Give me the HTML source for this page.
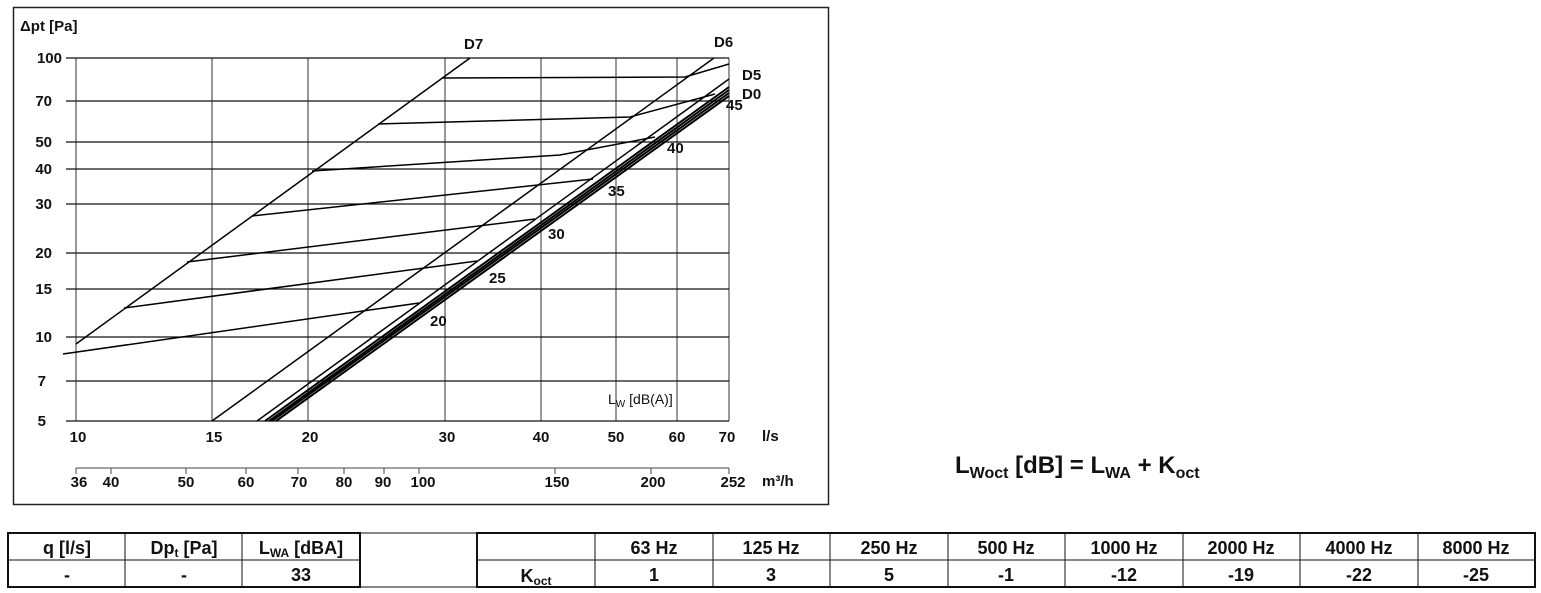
<!DOCTYPE html>
<html><head><meta charset="utf-8"><style>
body{margin:0;background:#fff;width:1541px;height:593px;overflow:hidden;font-family:"Liberation Sans",sans-serif}
svg{position:absolute;left:0;top:0}
</style></head><body>
<svg width="1541" height="593" viewBox="0 0 1541 593" font-family="Liberation Sans, sans-serif">
<rect x="13.5" y="7.5" width="815" height="497" fill="none" stroke="#222" stroke-width="1.5"/>
<g stroke="#555" stroke-width="1.2">
<line x1="76" y1="58" x2="76" y2="421"/><line x1="212" y1="58" x2="212" y2="421"/>
<line x1="308" y1="58" x2="308" y2="421"/><line x1="445" y1="58" x2="445" y2="421"/>
<line x1="541" y1="58" x2="541" y2="421"/><line x1="616" y1="58" x2="616" y2="421"/>
<line x1="677" y1="58" x2="677" y2="421"/><line x1="729" y1="58" x2="729" y2="421"/>
</g>
<g stroke="#111" stroke-width="1.2">
<line x1="66" y1="58" x2="729" y2="58"/><line x1="66" y1="101" x2="729" y2="101"/>
<line x1="66" y1="142" x2="729" y2="142"/><line x1="66" y1="169" x2="729" y2="169"/>
<line x1="66" y1="204" x2="729" y2="204"/><line x1="66" y1="253" x2="729" y2="253"/>
<line x1="66" y1="289" x2="729" y2="289"/><line x1="66" y1="337" x2="729" y2="337"/>
<line x1="66" y1="381" x2="729" y2="381"/><line x1="66" y1="421" x2="729" y2="421"/>
</g>
<g stroke="#000" stroke-width="1.5" fill="none">
<line x1="76" y1="344" x2="470" y2="58"/>
<line x1="212" y1="421" x2="714" y2="58"/>
<line x1="257" y1="421" x2="729" y2="79"/>
<polyline points="63,354 419,303"/>
<polyline points="124,308 477,261"/>
<polyline points="187,262 535,219"/>
<polyline points="252,216 593,179"/>
<polyline points="312,171 560,155 655,137"/>
<polyline points="378,124 630,117 715,94"/>
<polyline points="443,78 685,77 729,64"/>
</g>
<g stroke="#000" stroke-width="2" fill="none">
<line x1="265" y1="421" x2="729" y2="87"/>
<line x1="269" y1="421" x2="729" y2="90"/>
<line x1="272" y1="421" x2="729" y2="93"/>
<line x1="276" y1="421" x2="729" y2="96"/>
</g>
<g font-size="15" font-weight="bold" fill="#111">
<text x="20" y="31">Δpt [Pa]</text>
<g text-anchor="end"><text x="62" y="63">100</text><text x="52" y="106">70</text><text x="52" y="147">50</text><text x="52" y="174">40</text><text x="52" y="209">30</text><text x="52" y="258">20</text><text x="52" y="294">15</text><text x="52" y="342">10</text><text x="46" y="386">7</text><text x="46" y="426">5</text></g>
<text x="464" y="49">D7</text><text x="714" y="47">D6</text><text x="742" y="80">D5</text><text x="742" y="99">D0</text>
<text x="726" y="110">45</text><text x="667" y="153">40</text><text x="608" y="196">35</text><text x="548" y="239">30</text><text x="489" y="283">25</text><text x="430" y="326">20</text>
<g text-anchor="middle"><text x="78" y="442">10</text><text x="214" y="442">15</text><text x="310" y="442">20</text><text x="447" y="442">30</text><text x="541" y="442">40</text><text x="616" y="442">50</text><text x="677" y="442">60</text><text x="727" y="442">70</text></g>
<text x="762" y="441">l/s</text>
<g text-anchor="middle"><text x="79" y="487">36</text><text x="111" y="487">40</text><text x="186" y="487">50</text><text x="246" y="487">60</text><text x="299" y="487">70</text><text x="344" y="487">80</text><text x="383" y="487">90</text><text x="423" y="487">100</text><text x="557" y="487">150</text><text x="653" y="487">200</text><text x="733" y="487">252</text></g>
<text x="762" y="486">m³/h</text>
</g>
<g stroke="#444" stroke-width="1"><line x1="76" y1="468" x2="729" y2="468"/>
<line x1="76" y1="468" x2="76" y2="474"/><line x1="111" y1="468" x2="111" y2="474"/><line x1="186" y1="468" x2="186" y2="474"/><line x1="246" y1="468" x2="246" y2="474"/><line x1="298" y1="468" x2="298" y2="474"/><line x1="344" y1="468" x2="344" y2="474"/><line x1="384" y1="468" x2="384" y2="474"/><line x1="419" y1="468" x2="419" y2="474"/><line x1="555" y1="468" x2="555" y2="474"/><line x1="651" y1="468" x2="651" y2="474"/><line x1="729" y1="468" x2="729" y2="474"/></g>
<text x="608" y="404" font-size="14" fill="#111">L<tspan font-size="10" dy="3">W</tspan><tspan dy="-3"> [dB(A)]</tspan></text>
<text x="955" y="473" font-size="24" font-weight="bold" fill="#111">L<tspan font-size="16" dy="5">Woct</tspan><tspan dy="-5"> [dB] = L</tspan><tspan font-size="16" dy="5">WA</tspan><tspan dy="-5"> + K</tspan><tspan font-size="16" dy="5">oct</tspan></text>
<g fill="none" stroke="#111">
<rect x="8" y="533" width="352" height="54" stroke-width="2"/>
<line x1="8" y1="560" x2="360" y2="560" stroke-width="1"/>
<line x1="125" y1="533" x2="125" y2="587" stroke-width="1"/><line x1="242" y1="533" x2="242" y2="587" stroke-width="1"/>
<rect x="360" y="533" width="117" height="54" stroke-width="1"/>
<rect x="477" y="533" width="1058" height="54" stroke-width="2"/>
<line x1="477" y1="560" x2="1535" y2="560" stroke-width="1"/>
<line x1="595" y1="533" x2="595" y2="587"/><line x1="713" y1="533" x2="713" y2="587"/><line x1="830" y1="533" x2="830" y2="587"/><line x1="948" y1="533" x2="948" y2="587"/><line x1="1065" y1="533" x2="1065" y2="587"/><line x1="1183" y1="533" x2="1183" y2="587"/><line x1="1300" y1="533" x2="1300" y2="587"/><line x1="1418" y1="533" x2="1418" y2="587"/>
</g>
<g font-size="18" font-weight="bold" fill="#111" text-anchor="middle">
<text x="67" y="554">q [l/s]</text><text x="184" y="554">Dp<tspan font-size="12" dy="3">t</tspan><tspan dy="-3"> [Pa]</tspan></text><text x="301" y="554">L<tspan font-size="12" dy="3">WA</tspan><tspan dy="-3"> [dBA]</tspan></text>
<text x="67" y="581">-</text><text x="184" y="581">-</text><text x="301" y="581">33</text>
<text x="536" y="582">K<tspan font-size="12" dy="3">oct</tspan></text>
<text x="654" y="554">63 Hz</text><text x="771" y="554">125 Hz</text><text x="889" y="554">250 Hz</text><text x="1006" y="554">500 Hz</text><text x="1124" y="554">1000 Hz</text><text x="1241" y="554">2000 Hz</text><text x="1359" y="554">4000 Hz</text><text x="1476" y="554">8000 Hz</text>
<text x="654" y="581">1</text><text x="771" y="581">3</text><text x="889" y="581">5</text><text x="1006" y="581">-1</text><text x="1124" y="581">-12</text><text x="1241" y="581">-19</text><text x="1359" y="581">-22</text><text x="1476" y="581">-25</text>
</g>
</svg>
</body></html>
